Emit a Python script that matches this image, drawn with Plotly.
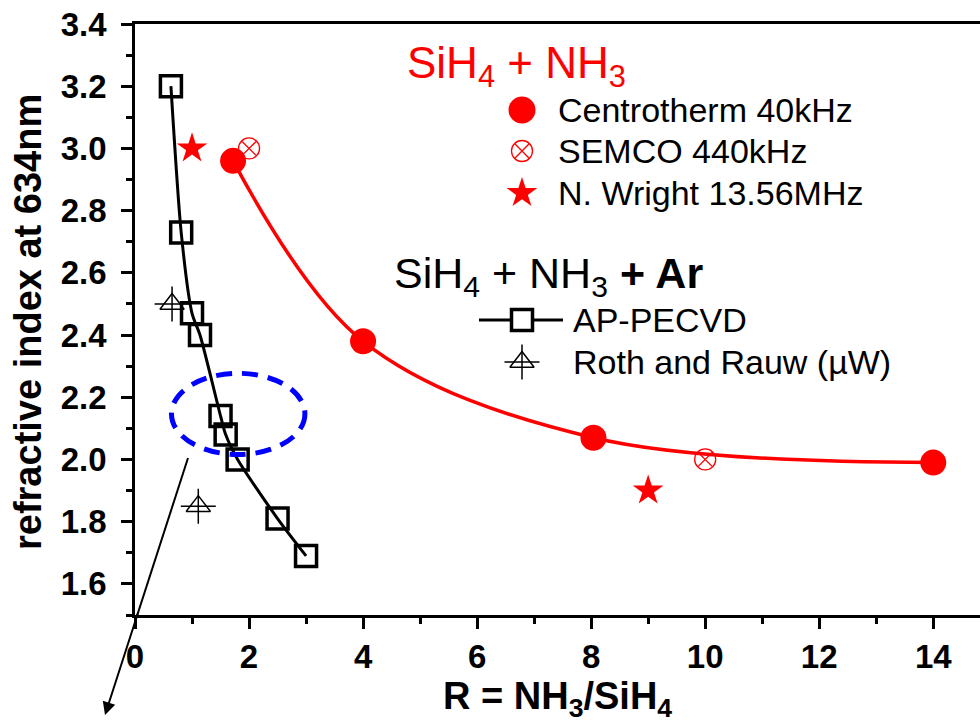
import plotly.graph_objects as go

# ---- data ----
ap_x = [0.63, 0.81, 1.00, 1.14, 1.50, 1.59, 1.80, 2.50, 3.00]
ap_y = [3.20, 2.73, 2.47, 2.40, 2.14, 2.08, 2.00, 1.81, 1.69]
roth_x = [0.65, 1.11]
roth_y = [2.50, 1.85]
centro_x = [1.72, 4.00, 8.04, 14.00]
centro_y = [2.96, 2.38, 2.07, 1.99]
semco_x = [2.0, 10.0]
semco_y = [3.00, 2.00]
wright_x = [1.0, 9.0]
wright_y = [3.00, 1.90]

x_ticks = [0, 2, 4, 6, 8, 10, 12, 14]
y_ticks = [1.6, 1.8, 2.0, 2.2, 2.4, 2.6, 2.8, 3.0, 3.2, 3.4]

# highlighted region (dashed ellipse), data units
hl_x = [0.64, 2.98]
hl_y = [2.016, 2.277]

RED = "#ff0000"
FONT = "Arial, Liberation Sans, sans-serif"

W, H = 980, 724
L, R, T, B = 135, 0, 24, 109
PW, PH = W - L - R, H - T - B

def paper_x(px):
    return (px - L) / PW

def paper_y(py):
    return (H - B - py) / PH

fig = go.Figure()

# fit curves
fig.add_trace(go.Scatter(x=centro_x, y=centro_y, mode="lines",
                         line=dict(color=RED, width=3.5, shape="spline", smoothing=1.0),
                         hoverinfo="skip"))
fig.add_trace(go.Scatter(x=ap_x, y=ap_y, mode="lines",
                         line=dict(color="black", width=3, shape="spline", smoothing=0.7),
                         hoverinfo="skip"))

# markers
fig.add_trace(go.Scatter(x=ap_x, y=ap_y, mode="markers",
                         marker=dict(symbol="square-open", size=21, color="black",
                                     line=dict(width=3.5, color="black"))))
fig.add_trace(go.Scatter(x=roth_x, y=roth_y, mode="markers",
                         marker=dict(symbol="triangle-up-open", size=21, color="black",
                                     line=dict(width=1.5, color="black"))))
fig.add_trace(go.Scatter(x=roth_x, y=roth_y, mode="markers",
                         marker=dict(symbol="cross-thin-open", size=25, color="black",
                                     line=dict(width=1.5, color="black"))))
fig.add_trace(go.Scatter(x=centro_x, y=centro_y, mode="markers",
                         marker=dict(symbol="circle", size=26, color=RED,
                                     line=dict(width=0))))
fig.add_trace(go.Scatter(x=semco_x, y=semco_y, mode="markers",
                         marker=dict(symbol="circle-x-open", size=21, color=RED,
                                     line=dict(width=1.3, color=RED))))
fig.add_trace(go.Scatter(x=wright_x, y=wright_y, mode="markers",
                         marker=dict(symbol="star", size=23, color=RED,
                                     line=dict(width=0))))

# ---- legend keys and arrow shaft on a pixel-space overlay axis ----
key_x = 522
keys = [
    (110, dict(symbol="circle", size=27, color=RED, line=dict(width=0))),
    (151, dict(symbol="circle-x-open", size=21, color=RED, line=dict(width=1.3, color=RED))),
    (193, dict(symbol="star", size=23, color=RED, line=dict(width=0))),
    (362, dict(symbol="triangle-up-open", size=21, color="black", line=dict(width=1.5, color="black"))),
    (362, dict(symbol="cross-thin-open", size=25, color="black", line=dict(width=1.5, color="black"))),
]
for ky, mk in keys:
    fig.add_trace(go.Scatter(x=[key_x], y=[ky], mode="markers", marker=mk,
                             xaxis="x2", yaxis="y2", hoverinfo="skip"))
fig.add_trace(go.Scatter(x=[479, 563], y=[320, 320], mode="lines",
                         line=dict(color="black", width=3), xaxis="x2", yaxis="y2",
                         hoverinfo="skip"))
fig.add_trace(go.Scatter(x=[key_x], y=[320], mode="markers",
                         marker=dict(symbol="square", size=21, color="white",
                                     line=dict(width=3.5, color="black")),
                         xaxis="x2", yaxis="y2", hoverinfo="skip"))

# arrow: shaft inside the plot area as overlay trace
head_x, head_y, tail_x, tail_y = 105, 715, 188, 458
fig.add_trace(go.Scatter(x=[tail_x, head_x], y=[tail_y, head_y], mode="lines",
                         line=dict(color="black", width=2), xaxis="x2", yaxis="y2",
                         hoverinfo="skip"))

def px_ann(text, x, y, size, color="black", xanchor="left", yanchor="middle", **kw):
    fig.add_annotation(text=text, x=paper_x(x), y=paper_y(y), xref="paper", yref="paper",
                       showarrow=False, xanchor=xanchor, yanchor=yanchor,
                       font=dict(family=FONT, size=size, color=color), **kw)

px_ann("SiH<sub>4</sub> + NH<sub>3</sub>", 405, 66, 44, RED)
px_ann("Centrotherm 40kHz", 556, 110, 34)
px_ann("SEMCO 440kHz", 556, 151, 34)
px_ann("N. Wright 13.56MHz", 556, 193, 34)
px_ann("SiH<sub>4</sub> + NH<sub>3</sub> <b>+ Ar</b>", 392, 276, 43)
px_ann("AP-PECVD", 571, 320, 34)
px_ann("Roth and Rauw (µW)", 571, 362, 34)

# axis titles
px_ann("<b>R = NH<sub>3</sub>/SiH<sub>4</sub></b>", 557, 699, 38, xanchor="center")
px_ann("<b>refractive index at 634nm</b>", 28, 322, 38, xanchor="center", textangle=-90)

# arrow: part outside the plot area with its head
frac = (head_y - (H - B - 3)) / (head_y - tail_y)
fig.add_annotation(x=paper_x(head_x), y=paper_y(head_y), xref="paper", yref="paper",
                   ax=(tail_x - head_x) * frac, ay=(tail_y - head_y) * frac,
                   axref="pixel", ayref="pixel",
                   text="", showarrow=True, arrowhead=2, arrowsize=1.3,
                   arrowwidth=2, arrowcolor="black")

# dashed ellipse
fig.add_shape(type="circle", xref="x", yref="y", x0=hl_x[0], x1=hl_x[1],
              y0=hl_y[0], y1=hl_y[1], line=dict(color="#0000ff", width=5, dash="16px,10px"))

fig.update_layout(
    width=W, height=H, margin=dict(l=L, r=R, t=T, b=B),
    plot_bgcolor="white", paper_bgcolor="white", showlegend=False,
    xaxis=dict(range=[0, 14.82], tickvals=x_ticks, ticktext=[str(v) for v in x_ticks],
               showgrid=False, zeroline=False, showline=True, linecolor="black",
               linewidth=2.5, mirror=True, ticks="outside", ticklen=11, tickwidth=2.5,
               tickcolor="black",
               minor=dict(dtick=1, tick0=0, ticks="outside", ticklen=6, tickwidth=2.5,
                          tickcolor="black", showgrid=False),
               tickfont=dict(family=FONT, size=33, color="black", weight="bold"),
               ticklabelstandoff=0),
    yaxis=dict(range=[1.5, 3.4], tickvals=y_ticks, ticktext=[f"{v:.1f}" for v in y_ticks],
               showgrid=False, zeroline=False, showline=True, linecolor="black",
               linewidth=2.5, mirror=False, ticks="outside", ticklen=11, tickwidth=2.5,
               tickcolor="black",
               minor=dict(dtick=0.1, tick0=1.5, ticks="outside", ticklen=6, tickwidth=2.5,
                          tickcolor="black", showgrid=False),
               tickfont=dict(family=FONT, size=33, color="black", weight="bold"),
               ticklabelstandoff=8),
    xaxis2=dict(overlaying="x", range=[L, W - R], visible=False, fixedrange=True),
    yaxis2=dict(overlaying="y", range=[H - B, T], visible=False, fixedrange=True),
)

fig.write_html("out.html")
